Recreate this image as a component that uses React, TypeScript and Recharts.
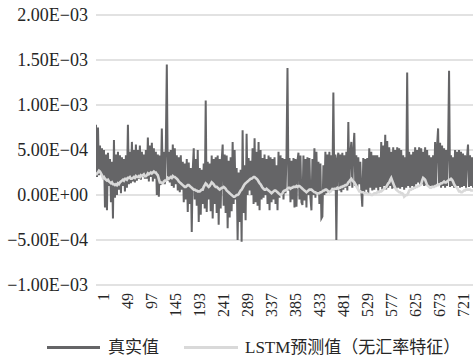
import React from "react";
import { LineChart, Line, XAxis, YAxis, CartesianGrid } from "recharts";

// Sample index of the first stored point and step between stored points
const START_INDEX = -15;
const INDEX_STEP = 2;

// 真实值 (units of 1e-5)
const TRUE_VALUES: number[] = [
  78, 20, 75, 22, 55, 24, 52, 20, 50, -14, 45, -17, 47, 10, 40, -8, 37, -26, 61, -3,
  45, 0, 48, 6, 44, 2, 42, 10, 40, 4, 44, 8, 78, 12, 48, 13, 59, 15, 50, 14,
  56, 16, 50, 18, 55, 17, 48, 20, 45, 18, 50, 18, 64, 15, 55, 20, 58, 15, 52, 18,
  48, 0, 45, -2, 44, 11, 74, 14, 48, 12, 52, 145, 16, 48, 14, 50, 10, 56, 8, 52,
  12, 44, 5, 42, 3, 44, 6, 37, -8, 35, -5, 40, -19, 36, -10, 30, -41, 28, 52, -5,
  40, -12, 50, -30, 30, -22, 28, -10, 35, -15, 105, -19, 37, -5, 35, -18, 44, -26, 40, -10,
  42, -20, 44, -33, 40, -15, 38, 56, -12, 45, -20, 44, -37, 38, -25, 42, -18, 59, -10, 50,
  -5, 30, -50, 25, -30, 28, -52, 72, -20, 33, -28, 68, 0, 41, 5, 38, 0, 52, -10, 63,
  -8, 48, -12, 59, -17, 50, -5, 41, -3, 45, 0, 40, -10, 44, -17, 42, -8, 40, -5, 42,
  -10, 33, -17, 48, -3, 44, 0, 41, -5, 40, 2, 44, 141, 5, 41, -8, 38, -5, 41, -14,
  40, -13, 38, 47, -5, 44, -8, -11, 44, -6, 40, -14, 42, 0, 41, -3, -17, 40, 0, 52,
  -3, 48, 2, 37, -10, 35, -26, -24, 33, 0, 48, 2, 45, 5, 48, 3, 44, 8, 114, 5,
  45, -50, 40, 47, 5, 45, 3, 47, 6, 44, 8, 48, 5, 81, 10, 46, 59, 8, 50, 69,
  10, 44, 8, 42, 12, 37, 5, -13, 41, 3, 40, 6, 41, 2, 52, 8, 48, 5, 44, 6,
  44, 8, 44, 5, 42, 9, 59, 6, 55, 10, 67, 6, 60, 8, 53, 10, 48, 7, 53, 8,
  50, 6, 53, 8, 52, 7, 50, 9, 44, 6, 42, 8, 136, 10, 48, 8, 45, 10, 48, 9,
  53, 12, 50, 14, 53, 10, 52, 12, 48, 10, 53, 11, 50, 9, 44, 10, 42, 8, 44, 9,
  59, 10, 55, 74, 12, 58, 8, 55, 10, 52, 8, 50, 10, 48, 138, 9, 44, 10, 42, 8,
  50, 9, 48, 10, 50, 8, 48, 9, 46, 10, 44, 8, 42, 56, 9, 44, 10, 42, 8,
];

// LSTM预测值（无汇率特征） (units of 1e-5)
const PRED_VALUES: number[] = [
  22, 24, 25, 27, 26, 24, 22, 19, 20, 18, 17, 16, 17, 15, 14, 13, 14, 12, 12, 11,
  12, 11, 13, 12, 14, 15, 16, 17, 16, 18, 18, 17, 19, 19, 20, 18, 18, 19, 20, 19,
  21, 20, 20, 21, 20, 22, 21, 22, 23, 21, 21, 22, 24, 23, 24, 25, 24, 25, 26, 25,
  25, 23, 22, 18, 14, 14, 13, 13, 15, 16, 16, 17, 19, 18, 19, 20, 19, 21, 20, 20,
  19, 18, 17, 15, 14, 13, 12, 11, 10, 9, 9, 10, 11, 11, 10, 9, 8, 7, 6, 6,
  5, 5, 4, 4, 4, 5, 6, 6, 9, 11, 13, 12, 10, 9, 10, 12, 14, 13, 12, 10,
  9, 9, 8, 7, 6, 7, 8, 8, 9, 8, 7, 5, 4, 3, 2, 1, 0, -1, -2, -2,
  -1, 0, 0, 1, 3, 5, 6, 8, 10, 12, 13, 14, 15, 16, 17, 18, 18, 19, 20, 20,
  19, 18, 17, 15, 13, 12, 10, 8, 7, 6, 6, 7, 6, 5, 4, 3, 2, 3, 4, 5,
  5, 4, 3, 2, 1, 0, 1, 2, 4, 5, 5, 6, 7, 8, 8, 7, 8, 8, 9, 9,
  9, 10, 9, 10, 10, 9, 8, 7, 6, 5, 4, 3, 4, 5, 6, 6, 6, 5, 4, 3,
  3, 2, 2, 2, 2, 3, 3, 4, 5, 5, 6, 6, 5, 4, 3, 4, 5, 6, 6, 7,
  7, 7, 8, 7, 8, 8, 9, 9, 10, 10, 11, 11, 12, 14, 15, 17, 18, 16, 15, 14,
  12, 10, 8, 6, 4, 4, 3, 3, 3, 2, 2, 2, 2, 1, 1, 1, 0, 0, 1, 2,
  2, 2, 3, 3, 3, 4, 4, 5, 6, 7, 8, 9, 11, 13, 14, 17, 19, 16, 13, 10,
  8, 6, 5, 4, 3, 3, 2, 2, 1, -2, -1, 0, 0, 2, 5, 6, 6, 7, 7, 8,
  8, 9, 9, 10, 10, 11, 12, 16, 19, 18, 17, 14, 11, 10, 9, 8, 8, 9, 9, 9,
  10, 10, 11, 11, 12, 12, 13, 13, 14, 15, 14, 14, 15, 16, 17, 17, 18, 17, 15, 12,
  10, 9, 8, 6, 4, 4, 3, 3, 4, 5, 5, 6, 6, 6, 6, 6, 5, 5, 5,
];

const VALUE_UNIT = 1e-5;

const X_TICKS = [1, 49, 97, 145, 193, 241, 289, 337, 385, 433, 481, 529, 577, 625, 673, 721];
const Y_TICKS = [-0.001, -0.0005, 0, 0.0005, 0.001, 0.0015, 0.002];
const X_DOMAIN: [number, number] = [-15, 741];

const SERIES_NAMES = ["真实值", "LSTM预测值（无汇率特征）"];
const COLORS = ["#656567", "#d9d9d9"];

const rows = TRUE_VALUES.map((v, i) => ({
  idx: START_INDEX + i * INDEX_STEP,
  actual: v * VALUE_UNIT,
  pred: (PRED_VALUES[i] ?? 0) * VALUE_UNIT,
}));

const FONT = "'Liberation Serif', 'Times New Roman', 'Noto Sans CJK SC', serif";

function fmtExp(v: number): string {
  if (Math.abs(v) < 1e-12) return "0.00E+00";
  const s = v.toExponential(2); // e.g. 2.00e-3
  const [mant, ex] = s.split("e");
  const sign = ex.startsWith("-") ? "−" : "+";
  const n = Math.abs(parseInt(ex, 10));
  const expStr = n < 10 ? "0" + n : String(n);
  return mant.replace("-", "−") + "E" + sign + expStr;
}

const XTick = (props: any) => {
  const { x, y, payload } = props;
  return (
    <text
      x={x}
      y={y}
      transform={`rotate(-90, ${x}, ${y})`}
      textAnchor="end"
      dominantBaseline="central"
      fontFamily={FONT}
      fontSize={16}
      fill="#262626"
    >
      {payload.value}
    </text>
  );
};

export default function App() {
  return (
    <div
      style={{
        position: "absolute",
        left: 0,
        top: 0,
        width: 473,
        height: 359,
        background: "#ffffff",
        overflow: "hidden",
      }}
    >
      <LineChart
        width={473}
        height={359}
        data={rows}
        margin={{ top: 15, right: 0, bottom: 0, left: 0 }}
      >
        <CartesianGrid horizontal vertical={false} stroke="#d9d9d9" strokeWidth={1.3} />
        <XAxis
          dataKey="idx"
          type="number"
          domain={X_DOMAIN}
          ticks={X_TICKS}
          interval={0}
          tick={<XTick />}
          tickLine={false}
          axisLine={false}
          height={74}
          allowDataOverflow
        />
        <YAxis
          type="number"
          domain={[Y_TICKS[0], Y_TICKS[Y_TICKS.length - 1]]}
          ticks={Y_TICKS}
          interval={0}
          tickFormatter={fmtExp}
          tickLine={false}
          axisLine={false}
          width={96}
          tick={{ fontFamily: FONT, fontSize: 18, fill: "#262626" }}
        />
        <Line
          type="linear"
          dataKey="actual"
          stroke={COLORS[0]}
          strokeWidth={2}
          dot={false}
          isAnimationActive={false}
        />
        <Line
          type="linear"
          dataKey="pred"
          stroke={COLORS[1]}
          strokeWidth={2.6}
          dot={false}
          isAnimationActive={false}
        />
      </LineChart>
      <div style={{ position: "absolute", left: 47, top: 346, width: 53, height: 3, background: COLORS[0] }} />
      <div
        style={{
          position: "absolute",
          left: 108,
          top: 337,
          fontFamily: FONT,
          fontSize: 17,
          lineHeight: "22px",
          color: "#262626",
          whiteSpace: "nowrap",
        }}
      >
        {SERIES_NAMES[0]}
      </div>
      <div style={{ position: "absolute", left: 184, top: 346, width: 54, height: 3, background: COLORS[1] }} />
      <div
        style={{
          position: "absolute",
          left: 245,
          top: 337,
          fontFamily: FONT,
          fontSize: 17,
          lineHeight: "22px",
          color: "#262626",
          whiteSpace: "nowrap",
        }}
      >
        {SERIES_NAMES[1]}
      </div>
    </div>
  );
}
